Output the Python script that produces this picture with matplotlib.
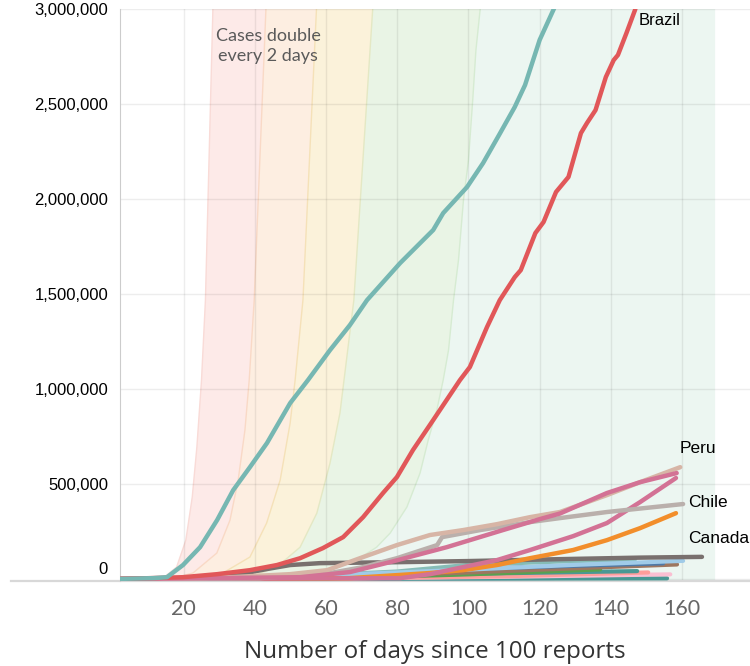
import numpy as np
import matplotlib
matplotlib.use('Agg')
import matplotlib.pyplot as plt

plt.rcParams['font.family'] = ['Liberation Sans', 'DejaVu Sans']

# doubling-time guide bands (boundaries)
band_a_days = [10, 14.5, 18.0, 20.6, 22.4, 23.7, 25.0, 26.1, 28.2]
band_a_cases = [0, 10500, 63000, 205000, 432000, 695000, 1047000, 1468000, 3000000]
band_b_days = [16, 22.6, 29.3, 33.0, 35.3, 37.2, 38.4, 39.8, 43.1]
band_b_cases = [0, 32000, 137000, 310000, 521000, 784000, 1047000, 1468000, 3000000]
band_c_days = [22, 31.0, 38.6, 43.3, 47.1, 49.9, 51.3, 53.5, 57.3]
band_c_cases = [0, 32000, 116000, 295000, 521000, 821000, 1047000, 1468000, 3000000]
band_d_days = [30, 38.6, 46.1, 52.7, 57.4, 61.1, 63.9, 67.8, 73.1]
band_d_cases = [0, 10500, 63000, 168000, 347000, 610000, 874000, 1468000, 3000000]
band_e_days = [45, 61.1, 68.6, 74.2, 78.0, 82.7, 86.4, 88.7, 91.1, 92.9, 94.4, 95.8,
               97.2, 98.6, 100.0, 101.2, 102.1, 103.3]
band_e_cases = [0, 47000, 100000, 168000, 242000, 379000, 558000, 732000, 889000, 1047000,
                1205000, 1468000, 1679000, 1995000, 2205000, 2521000, 2784000, 3000000]
band_end_day = 169.3

# country series
us_days = [0, 11.4, 15.3, 19.8, 24.6, 29.4, 33.9, 38.6, 43.4, 49.9, 54.9, 61.1, 66.7, 71.5,
           80.8, 90.1, 92.9, 99.6, 104.1, 108.9, 113.0, 115.9, 120.0, 124.1, 127.1]
us_cases = [100, 5000, 10000, 74000, 168000, 311000, 468000, 589000, 716000, 926000, 1047000,
            1205000, 1337000, 1468000, 1663000, 1837000, 1926000, 2063000, 2189000, 2347000,
            2484000, 2600000, 2837000, 3005000, 3150000]

brazil_days = [0, 10.5, 19.8, 29.4, 38.6, 46.2, 52.7, 59.1, 64.8, 70.4, 76.0, 79.9, 84.4, 90.1,
               97.6, 100.4, 105.2, 108.8, 113.0, 114.7, 118.8, 121.1, 124.6, 128.1, 131.6,
               133.3, 135.7, 138.6, 140.8, 142.0, 144.4, 146.8, 148.8]
brazil_cases = [100, 5000, 10000, 26000, 47000, 74000, 110000, 163000, 221000, 326000, 453000,
                537000, 679000, 837000, 1047000, 1116000, 1326000, 1468000, 1589000, 1626000,
                1821000, 1879000, 2037000, 2116000, 2347000, 2400000, 2468000, 2642000,
                2731000, 2758000, 2874000, 2995000, 3126000]

peru_days = [0, 24.6, 33.0, 49.9, 60.3, 70.4, 79.9, 89.2, 98.5, 108.0, 117.3, 125.7, 138.9, 148.2, 159.5]
peru_cases = [100, 5000, 10000, 26000, 47000, 116000, 179000, 232000, 258000, 289000, 326000,
              353000, 442000, 510000, 589000]

chile_days = [0, 41.4, 61.1, 70.4, 79.9, 91.2, 92.6, 103.3, 117.3, 125.7, 138.9, 160.3]
chile_cases = [100, 5000, 32000, 63000, 110000, 179000, 221000, 258000, 300000, 321000, 353000, 395000]

pink_a_days = [0, 52.7, 66.7, 77.9, 93.9, 109.7, 120.1, 125.7, 138.9, 148.2, 158.5]
pink_a_cases = [100, 10000, 37000, 89000, 168000, 258000, 316000, 345000, 453000, 510000, 558000]

pink_b_days = [0, 80.8, 89.2, 98.5, 108.0, 117.3, 129.4, 138.9, 148.2, 158.3]
pink_b_cases = [100, 5000, 26000, 63000, 100000, 153000, 226000, 295000, 405000, 532000]

orange_days = [0, 66.5, 89.2, 98.5, 108.0, 117.3, 129.4, 138.9, 148.2, 158.3]
orange_cases = [100, 5000, 32000, 47000, 74000, 110000, 153000, 205000, 268000, 347000]

canada_days = [0, 24.6, 35.8, 43.4, 49.9, 58.3, 79.9, 100.4, 125.7, 148.2, 165.6]
canada_cases = [100, 5000, 26000, 53000, 74000, 84000, 89000, 95000, 105000, 113000, 117000]

lightblue_days = [0, 25, 60, 100, 130, 160.3]
lightblue_cases = [100, 3000, 20000, 50000, 75000, 96000]
lightteal_days = [0, 40, 80, 100, 125, 146.8]
lightteal_cases = [100, 5000, 40000, 75000, 92000, 104000]
blue_days = [0, 40, 80, 100, 130, 154.7]
blue_cases = [100, 3000, 25000, 53000, 70000, 83000]
brown_days = [0, 50, 100, 137, 158.6]
brown_cases = [100, 3000, 35000, 62000, 77000]
green_days = [0, 60, 100, 137]
green_cases = [100, 3000, 25000, 51000]
darkteal_days = [0, 40, 100, 147.4]
darkteal_cases = [100, 3000, 28000, 42000]
salmon_days = [0, 60, 110, 150.5]
salmon_cases = [100, 2000, 15000, 35000]
lightpink_days = [0, 50, 110, 156.7]
lightpink_cases = [100, 2000, 12000, 25000]
lavender_days = [0, 124]
lavender_cases = [100, 6000]
lowteal_days = [0, 155.8]
lowteal_cases = [100, 4000]

fig = plt.figure(figsize=(7.5, 6.66), dpi=100)
ax = fig.add_axes([120 / 750, 1 - 581 / 666, 630 / 750, 572 / 666])

# bands
bounds = [(band_a_days, band_a_cases), (band_b_days, band_b_cases), (band_c_days, band_c_cases),
          (band_d_days, band_d_cases), (band_e_days, band_e_cases)]
fills = ['#fdeae8', '#fdeee1', '#fbf2da', '#e9f4e5']
edges = ['#f9dbd7', '#f9d9c6', '#f5e1b8', '#e4e8c4', '#d6ebd2']
for i, col in enumerate(fills):
    d1, c1 = bounds[i]
    d2, c2 = bounds[i + 1]
    ax.fill(d1 + d2[::-1], c1 + c2[::-1], color=col, lw=0, zorder=0.2)
ax.fill(band_e_days + [band_end_day, band_end_day, band_e_days[0]],
        band_e_cases + [3000000, -20000, -20000], color='#ecf6f1', lw=0, zorder=0.2)
for (d, c), col in zip(bounds, edges):
    ax.plot(d, c, color=col, lw=1, zorder=0.3)

ax.text(43.7, 2805000, 'Cases double\nevery 2 days', ha='center', va='center',
        fontsize=13, color='#5a5a5a', family='Lato', linespacing=1.3)

small = [(lavender_days, lavender_cases, '#9a8fbf'), (lowteal_days, lowteal_cases, '#499894'),
         (lightpink_days, lightpink_cases, '#fabfd2'), (salmon_days, salmon_cases, '#ff9d9a'),
         (darkteal_days, darkteal_cases, '#499894'), (green_days, green_cases, '#59a14f'),
         (brown_days, brown_cases, '#9d7660'), (blue_days, blue_cases, '#4e79a7'),
         (lightteal_days, lightteal_cases, '#86bcb6'), (lightblue_days, lightblue_cases, '#a0cbe8')]
for d, c, col in small:
    ax.plot(d, c, color=col, lw=3, solid_capstyle='round', zorder=2)

big = [(canada_days, canada_cases, '#79706e'), (orange_days, orange_cases, '#f28e2b'),
       (pink_b_days, pink_b_cases, '#d37295'), (chile_days, chile_cases, '#bab0ac'),
       (peru_days, peru_cases, '#d7b5a6'), (pink_a_days, pink_a_cases, '#d37295'),
       (brazil_days, brazil_cases, '#e15759'), (us_days, us_cases, '#76b7b2')]
for d, c, col in big:
    ax.plot(d, c, color=col, lw=3.2, solid_capstyle='round', solid_joinstyle='round', zorder=3)

ax.text(147.9, 2942000, 'Brazil', fontsize=12, va='center', ha='left')
ax.text(159.3, 688000, 'Peru', fontsize=12.5, va='center', ha='left')
ax.text(161.8, 402000, 'Chile', fontsize=12.5, va='center', ha='left')
ax.text(161.8, 214000, 'Canada', fontsize=12.5, va='center', ha='left')

ax.set_xlim(2.1, 179.1)
ax.set_ylim(-10000, 3000000)
ax.set_xticks(range(20, 161, 20))
yticks = list(range(0, 3000001, 500000))
ax.set_yticks(yticks)
ax.set_yticklabels(['' if v == 0 else f'{v:,}' for v in yticks])
ax.annotate('0', xy=(0, 0), xycoords=('axes fraction', 'data'), xytext=(-8.6, 7.2),
            textcoords='offset points', ha='right', va='center', fontsize=12)
ax.tick_params(axis='y', length=0, pad=8.6, labelsize=12, labelcolor='black')
ax.tick_params(axis='x', length=0, pad=13, labelsize=15.5, labelcolor='#666666')
for lab in ax.get_xticklabels():
    lab.set_fontfamily('Lato')
ax.set_xlabel('Number of days since 100 reports', fontsize=17.4, color='#333333',
              family='Open Sans', labelpad=15)

ax.grid(True, color='black', alpha=0.07, lw=1)
ax.set_axisbelow(True)
for s in ['top', 'right', 'bottom']:
    ax.spines[s].set_visible(False)
ax.spines['left'].set_color('#cccccc')
ax.plot([-109 / 630, 1], [0, 0], transform=ax.transAxes, color='#d8d8d8', lw=1.6,
        clip_on=False, zorder=1)

fig.savefig('out.png', dpi=100)
